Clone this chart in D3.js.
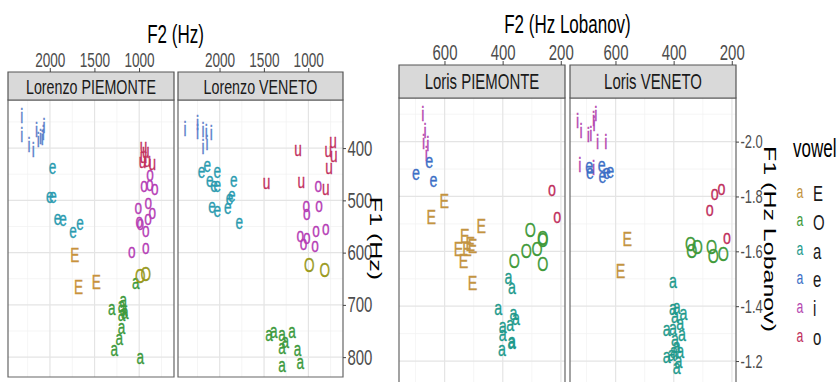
<!DOCTYPE html>
<html>
<head>
<meta charset="utf-8">
<script src="https://cdn.jsdelivr.net/npm/d3@7"></script>
<style>
  body { margin: 0; background: #fff; }
  svg { display: block; }
</style>
</head>
<body>
<script>
// ---- data: [vowel, F2, F1] ----
const lorenzoPanels = ['Lorenzo PIEMONTE', 'Lorenzo VENETO'];
const lorisPanels = ['Loris PIEMONTE', 'Loris VENETO'];

const lorenzoVowels = ['i', 'e', 'E', 'a', 'O', 'o', 'u'];
const lorisVowels = ['E', 'O', 'a', 'e', 'i', 'o'];

const hzF2Ticks = [2000, 1500, 1000];
const hzF2Minor = [2250, 1750, 1250, 750];
const hzF1Ticks = [400, 500, 600, 700, 800];
const hzF1Minor = [350, 450, 550, 650, 750];

const lobF2Ticks = [600, 400, 200];
const lobF2Minor = [700, 500, 300];
const lobF1Ticks = [-2.0, -1.8, -1.6, -1.4, -1.2];
const lobF1Minor = [-2.1, -1.9, -1.7, -1.5, -1.3];

const lorenzoPiemonte = [
  ['i', 2317, 338], ['i', 2317, 374], ['i', 2235, 394], ['i', 2187, 403], ['i', 2150, 365],
  ['i', 2131, 384], ['i', 2105, 378], ['i', 2076, 371], ['i', 2065, 358], ['i', 2087, 381],
  ['e', 1972, 440], ['e', 2001, 496], ['e', 1964, 496], ['e', 1916, 538], ['e', 1853, 539],
  ['e', 1742, 563], ['e', 1664, 546],
  ['E', 1723, 605], ['E', 1679, 666], ['E', 1482, 656],
  ['a', 1037, 660], ['a', 1308, 710], ['a', 1197, 703], ['a', 1178, 695], ['a', 1175, 711],
  ['a', 1160, 718], ['a', 1197, 721], ['a', 1197, 746], ['a', 1223, 767], ['a', 1278, 787],
  ['a', 989, 804],
  ['O', 989, 644], ['O', 926, 640],
  ['o', 1082, 601], ['o', 926, 592], ['o', 989, 547], ['o', 1000, 543], ['o', 926, 560],
  ['o', 1011, 517], ['o', 897, 507], ['o', 852, 525], ['o', 900, 537], ['o', 945, 475],
  ['o', 882, 472], ['o', 826, 479], ['o', 878, 453],
  ['u', 952, 400], ['u', 952, 419], ['u', 926, 410], ['u', 908, 426], ['u', 852, 432],
  ['u', 963, 429]
];

const lorenzoVeneto = [
  ['i', 2391, 363], ['i', 2250, 352], ['i', 2250, 368], ['i', 2187, 365], ['i', 2150, 368],
  ['i', 2094, 371], ['i', 2187, 397], ['i', 2142, 390],
  ['e', 2205, 448], ['e', 2139, 435], ['e', 2027, 448], ['e', 2113, 464], ['e', 2065, 475],
  ['e', 2027, 475], ['e', 1842, 464], ['e', 1890, 499], ['e', 1864, 493], ['e', 1909, 517],
  ['e', 2087, 515], ['e', 2027, 522], ['e', 1779, 544],
  ['u', 1471, 469], ['u', 1118, 406], ['u', 1081, 467], ['u', 803, 480], ['u', 766, 440],
  ['u', 777, 408], ['u', 721, 390], ['u', 714, 416],
  ['o', 888, 475], ['o', 1025, 513], ['o', 1018, 528], ['o', 881, 513], ['o', 1092, 570],
  ['o', 1055, 586], ['o', 1018, 573], ['o', 914, 560], ['o', 926, 589], ['o', 803, 557],
  ['O', 989, 624], ['O', 814, 633],
  ['a', 1445, 759], ['a', 1389, 754], ['a', 1297, 759], ['a', 1185, 754], ['a', 1260, 772],
  ['a', 1297, 785], ['a', 1122, 788], ['a', 1092, 813], ['a', 1297, 819]
];

const lorisPiemonte = [
  ['i', 675, -2.102], ['i', 667, -2.042], ['i', 672, -2.0], ['i', 658, -1.994], ['i', 663, -1.958],
  ['e', 653, -1.924], ['e', 699, -1.880], ['e', 638, -1.856],
  ['E', 601, -1.784], ['E', 646, -1.728], ['E', 474, -1.694], ['E', 531, -1.658], ['E', 512, -1.628],
  ['E', 552, -1.610], ['E', 523, -1.610], ['E', 504, -1.622], ['E', 535, -1.568], ['E', 504, -1.486],
  ['O', 305, -1.680], ['O', 262, -1.652], ['O', 262, -1.642], ['O', 319, -1.604], ['O', 282, -1.610],
  ['O', 262, -1.556], ['O', 360, -1.568],
  ['o', 231, -1.820], ['o', 213, -1.724],
  ['a', 380, -1.502], ['a', 368, -1.466], ['a', 416, -1.388], ['a', 363, -1.370], ['a', 355, -1.352],
  ['a', 374, -1.328], ['a', 400, -1.322], ['a', 400, -1.294], ['a', 368, -1.268], ['a', 403, -1.238],
  ['a', 370, -1.262]
];

const lorisVeneto = [
  ['i', 731, -2.078], ['i', 719, -2.042], ['i', 694, -2.026], ['i', 685, -2.030], ['i', 676, -2.084],
  ['i', 668, -2.102], ['i', 674, -2.066], ['i', 662, -2.0], ['i', 634, -2.0], ['i', 723, -1.916],
  ['i', 676, -1.904],
  ['e', 691, -1.904], ['e', 688, -1.882], ['e', 648, -1.910], ['e', 645, -1.868], ['e', 631, -1.882],
  ['e', 619, -1.886],
  ['E', 560, -1.646], ['E', 583, -1.532],
  ['o', 259, -1.808], ['o', 236, -1.826], ['o', 276, -1.748], ['o', 217, -1.646],
  ['O', 342, -1.628], ['O', 319, -1.616], ['O', 338, -1.604], ['O', 270, -1.616], ['O', 264, -1.586],
  ['O', 230, -1.592],
  ['a', 403, -1.486], ['a', 403, -1.388], ['a', 390, -1.390], ['a', 367, -1.370], ['a', 396, -1.358],
  ['a', 378, -1.334], ['a', 424, -1.310], ['a', 403, -1.316], ['a', 372, -1.292], ['a', 396, -1.274],
  ['a', 390, -1.250], ['a', 424, -1.214], ['a', 407, -1.220], ['a', 384, -1.196], ['a', 390, -1.172],
  ['a', 399, -1.232], ['a', 378, -1.232]
];

// colours
const lorenzoColors = ['#5a7ec9', '#2a9bb0', '#c8923c', '#3d9a3d', '#9a9a1e', '#b53cb5', '#c2305e'];
const lorisColors = ['#c39441', '#3f9a3a', '#1e9a8c', '#3d6fc6', '#b548b0', '#c02e5c'];

// the picture is squeezed horizontally, so draw wide and squash with the viewBox
const SX = 0.68;
const H = 382;
const W = 837 / SX;
const X = v => v / SX;
const FONT = '"Liberation Sans", Arial, Helvetica, sans-serif';

const svg = d3.select('body')
  .append('svg')
  .attr('width', 837)
  .attr('height', H)
  .attr('viewBox', `0 0 ${W} ${H}`)
  .attr('preserveAspectRatio', 'none')
  .style('font-family', FONT);

// vertical nudge so the glyph's visual middle sits on the point
const glyphDy = g => (/[A-Zi]/.test(g) ? '0.36em' : '0.26em');

function drawFigure(fig) {
  const color = d3.scaleOrdinal().domain(fig.vowels).range(fig.colors);
  const y = d3.scaleLinear().domain(fig.yDomain).range([fig.top, fig.bottom]);

  fig.panels.forEach((p, idx) => {
    const x = d3.scaleLinear().domain(fig.xDomain).range([X(p.x0), X(p.x1)]);
    const g = svg.append('g');

    // panel
    g.append('rect')
      .attr('x', X(p.x0)).attr('y', fig.top)
      .attr('width', X(p.x1) - X(p.x0)).attr('height', fig.bottom - fig.top)
      .attr('fill', '#fff');

    // grid
    const grid = g.append('g');
    grid.selectAll('.vmin').data(fig.xMinor).join('line')
      .attr('x1', d => x(d)).attr('x2', d => x(d))
      .attr('y1', fig.top).attr('y2', fig.bottom)
      .attr('stroke', '#f0f0f0').attr('stroke-width', 0.7)
      .attr('vector-effect', 'non-scaling-stroke');
    grid.selectAll('.hmin').data(fig.yMinor).join('line')
      .attr('x1', X(p.x0)).attr('x2', X(p.x1))
      .attr('y1', d => y(d)).attr('y2', d => y(d))
      .attr('stroke', '#f0f0f0').attr('stroke-width', 0.7)
      .attr('vector-effect', 'non-scaling-stroke');
    grid.selectAll('.vmaj').data(fig.xMajor).join('line')
      .attr('x1', d => x(d)).attr('x2', d => x(d))
      .attr('y1', fig.top).attr('y2', fig.bottom)
      .attr('stroke', '#e4e4e4').attr('stroke-width', 1.2)
      .attr('vector-effect', 'non-scaling-stroke');
    grid.selectAll('.hmaj').data(fig.yMajor).join('line')
      .attr('x1', X(p.x0)).attr('x2', X(p.x1))
      .attr('y1', d => y(d)).attr('y2', d => y(d))
      .attr('stroke', '#e4e4e4').attr('stroke-width', 1.2)
      .attr('vector-effect', 'non-scaling-stroke');

    // vowel glyphs
    g.append('g').selectAll('text').data(p.data).join('text')
      .attr('x', d => x(d[1]))
      .attr('y', d => y(d[2]))
      .attr('dy', d => glyphDy(d[0]))
      .attr('text-anchor', 'middle')
      .attr('font-size', fig.glyphSize)
      .attr('fill', d => color(d[0]))
      .attr('stroke', d => color(d[0]))
      .attr('stroke-width', 0.35)
      .text(d => d[0]);

    // border
    g.append('rect')
      .attr('x', X(p.x0)).attr('y', fig.top)
      .attr('width', X(p.x1) - X(p.x0)).attr('height', fig.bottom - fig.top)
      .attr('fill', 'none').attr('stroke', '#666').attr('stroke-width', 1.2)
      .attr('vector-effect', 'non-scaling-stroke');

    // strip
    g.append('rect')
      .attr('x', X(p.x0)).attr('y', fig.stripTop)
      .attr('width', X(p.x1) - X(p.x0)).attr('height', fig.top - fig.stripTop)
      .attr('fill', '#d9d9d9').attr('stroke', '#555').attr('stroke-width', 1.2)
      .attr('vector-effect', 'non-scaling-stroke');
    g.append('text')
      .attr('x', (X(p.x0) + X(p.x1)) / 2)
      .attr('y', (fig.stripTop + fig.top) / 2)
      .attr('dy', '0.36em')
      .attr('text-anchor', 'middle')
      .attr('font-size', fig.stripSize)
      .attr('fill', '#1a1a1a')
      .text(p.name);

    // top axis on every facet
    const xAxis = g.append('g')
      .attr('transform', `translate(0,${fig.stripTop})`)
      .call(d3.axisTop(x).tickValues(fig.xMajor).tickFormat(d3.format('d'))
        .tickSize(4).tickPadding(fig.xPad).tickSizeOuter(0));
    xAxis.select('.domain').remove();
    xAxis.selectAll('line').attr('stroke', '#444').attr('vector-effect', 'non-scaling-stroke');
    xAxis.selectAll('text')
      .attr('font-family', FONT).attr('font-size', fig.xTickSize).attr('fill', '#4d4d4d');

    // right axis on the last facet
    if (idx === fig.panels.length - 1) {
      const yAxis = g.append('g')
        .attr('transform', `translate(${X(p.x1)},0)`)
        .call(d3.axisRight(y).tickValues(fig.yMajor).tickFormat(fig.yFormat)
          .tickSize(X(3)).tickPadding(X(1.5)).tickSizeOuter(0));
      yAxis.select('.domain').remove();
      yAxis.selectAll('line').attr('stroke', '#444').attr('vector-effect', 'non-scaling-stroke');
      yAxis.selectAll('text')
        .attr('font-family', FONT).attr('font-size', fig.yTickSize).attr('fill', '#4d4d4d');
    }
  });

  const first = fig.panels[0], last = fig.panels[fig.panels.length - 1];

  // axis titles
  svg.append('text')
    .attr('x', (X(first.x0) + X(last.x1)) / 2)
    .attr('y', fig.xTitleY)
    .attr('text-anchor', 'middle')
    .attr('font-size', 25)
    .attr('fill', '#000')
    .text(fig.xTitle);

  svg.append('text')
    .attr('transform', `translate(${X(fig.yTitleX)},${(fig.top + fig.yTitleBottom) / 2}) rotate(90)`)
    .attr('dy', '0.36em')
    .attr('text-anchor', 'middle')
    .attr('font-size', 25)
    .attr('fill', '#000')
    .text(fig.yTitle);
}

drawFigure({
  panels: [
    { name: lorenzoPanels[0], data: lorenzoPiemonte, x0: 8, x1: 174 },
    { name: lorenzoPanels[1], data: lorenzoVeneto, x0: 178, x1: 343 }
  ],
  vowels: lorenzoVowels, colors: lorenzoColors,
  stripTop: 72, top: 100, bottom: 377, yTitleBottom: 377,
  xDomain: [2470, 610], yDomain: [308, 838],
  xMajor: hzF2Ticks, xMinor: hzF2Minor, yMajor: hzF1Ticks, yMinor: hzF1Minor,
  yFormat: d3.format('d'),
  glyphSize: 20, stripSize: 21, xTickSize: 20, yTickSize: 22, xPad: 1,
  xTitle: 'F2 (Hz)', xTitleY: 43,
  yTitle: 'F1 (Hz)', yTitleX: 376
});

drawFigure({
  panels: [
    { name: lorisPanels[0], data: lorisPiemonte, x0: 399, x1: 565 },
    { name: lorisPanels[1], data: lorisVeneto, x0: 570, x1: 736 }
  ],
  vowels: lorisVowels, colors: lorisColors,
  stripTop: 65, top: 98, bottom: 386, yTitleBottom: 380,
  xDomain: [757, 186], yDomain: [-2.159, -1.109],
  xMajor: lobF2Ticks, xMinor: lobF2Minor, yMajor: lobF1Ticks, yMinor: lobF1Minor,
  yFormat: d => d.toFixed(1),
  glyphSize: 21, stripSize: 22, xTickSize: 22, yTickSize: 19, xPad: 1,
  xTitle: 'F2 (Hz Lobanov)', xTitleY: 33,
  yTitle: 'F1 (Hz Lobanov)', yTitleX: 770
});

// legend for the Loris figure
const legendColor = d3.scaleOrdinal().domain(lorisVowels).range(lorisColors);
const legendY = d3.scalePoint().domain(lorisVowels).range([193, 337]);
const legend = svg.append('g');
legend.append('text')
  .attr('x', X(793)).attr('y', 157)
  .attr('font-size', 25).attr('fill', '#000')
  .text('vowel');
const item = legend.selectAll('.item').data(lorisVowels).join('g')
  .attr('transform', d => `translate(0,${legendY(d)})`);
item.append('text')
  .attr('x', X(800)).attr('dy', '0.26em')
  .attr('text-anchor', 'middle')
  .attr('font-size', 18)
  .attr('fill', d => legendColor(d))
  .text('a');
item.append('text')
  .attr('x', X(813)).attr('dy', '0.36em')
  .attr('font-size', 22)
  .attr('fill', '#1a1a1a')
  .text(d => d);
</script>
</body>
</html>
